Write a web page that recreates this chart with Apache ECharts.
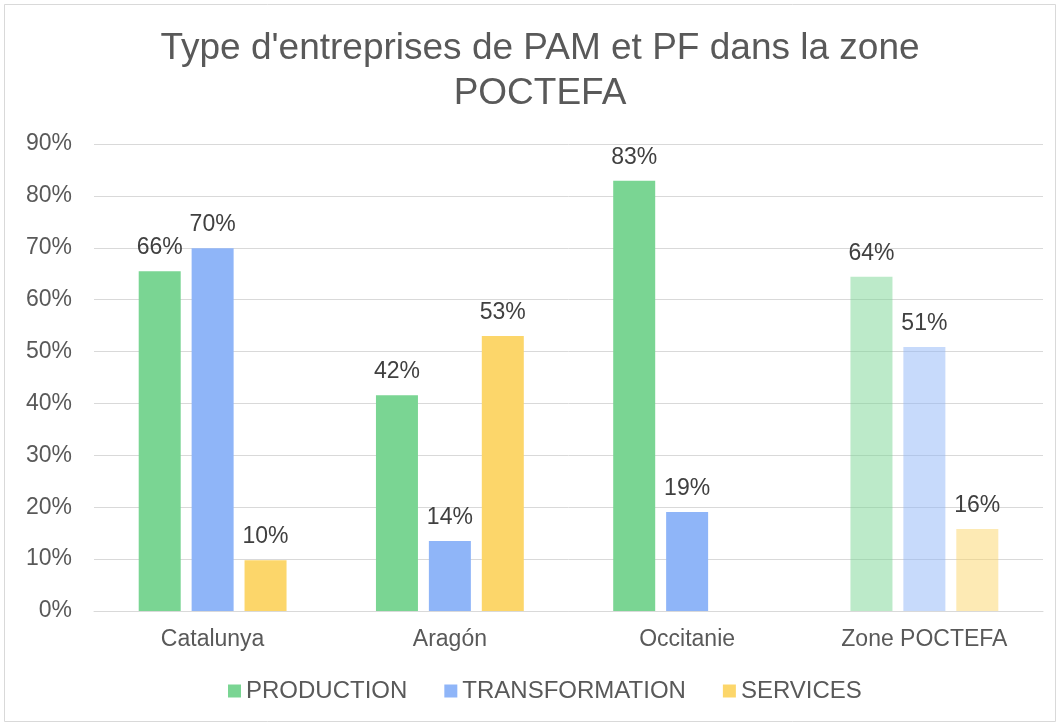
<!DOCTYPE html>
<html><head><meta charset="utf-8">
<script src="https://cdn.jsdelivr.net/npm/echarts@6/dist/echarts.min.js"></script>
<style>html,body{margin:0;padding:0;background:#fff}#c{width:1060px;height:725px}</style>
</head><body><div id="c"></div>
<script>
const titleText = "Type d'entreprises de PAM et PF dans la zone\nPOCTEFA";
const categories = ["Catalunya", "Aragón", "Occitanie", "Zone POCTEFA"];
const production = [65.5, 41.6, 82.9, 64.4];
const transformation = [69.9, 13.5, 19.1, 50.9];
const services = [9.8, 53.0, null, 15.8];
const seriesNames = ["PRODUCTION", "TRANSFORMATION", "SERVICES"];
const colors = ["#7AD593", "#8FB5F8", "#FCD66A"];
const fadedColors = ["rgba(122,213,147,0.5)", "rgba(143,181,248,0.5)", "rgba(252,214,106,0.5)"];
const yTicks = [0, 10, 20, 30, 40, 50, 60, 70, 80, 90];
const fadedCategory = "Zone POCTEFA";

const font = "'Liberation Sans', Arial, sans-serif";
function build(vals, k) {
  return vals.map((v, i) => {
    if (v === null) return '-';
    if (categories[i] === fadedCategory) return { value: v, itemStyle: { color: fadedColors[k] } };
    return v;
  });
}
const allSeries = [production, transformation, services].map((vals, k) => ({
  name: seriesNames[k],
  type: 'bar',
  data: build(vals, k),
  barWidth: 42,
  barGap: '26%',
  itemStyle: { color: colors[k] },
  label: {
    show: true, position: 'top', distance: 12,
    fontFamily: font, fontSize: 23, color: '#404040',
    formatter: p => Math.round(p.value) + '%'
  },
  emphasis: { disabled: true }
}));

const chart = echarts.init(document.getElementById('c'), null, { renderer: 'canvas' });
chart.setOption({
  animation: false,
  backgroundColor: '#fff',
  graphic: [{ type: 'rect', shape: { x: 4.5, y: 4.5, width: 1051, height: 717 }, style: { fill: 'none', stroke: '#d9d9d9', lineWidth: 1 }, z: -1 }],
  title: {
    text: titleText, left: 540, textAlign: 'center', top: 26, padding: 0,
    textStyle: { fontFamily: font, fontSize: 37, fontWeight: 'normal', color: '#595959', lineHeight: 45 }
  },
  legend: {
    top: 674, left: 223, itemWidth: 13, itemHeight: 13, itemGap: 37,
    icon: 'rect',
    textStyle: { fontFamily: font, fontSize: 24, color: '#595959', padding: [0, 0, 0, 0] },
    data: seriesNames
  },
  grid: { left: 94, right: 17, top: 144, bottom: 114, containLabel: false },
  xAxis: {
    type: 'category', data: categories,
    axisLine: { lineStyle: { color: '#d9d9d9', width: 1 } },
    axisTick: { show: false },
    axisLabel: { fontFamily: font, fontSize: 23, color: '#595959', margin: 17 }
  },
  yAxis: {
    type: 'value', min: yTicks[0], max: yTicks[yTicks.length - 1], interval: 10,
    axisLine: { show: false }, axisTick: { show: false },
    splitLine: { lineStyle: { color: '#d9d9d9', width: 1 } },
    axisLabel: { fontFamily: font, fontSize: 23, color: '#595959', margin: 22, formatter: v => v + '%' }
  },
  series: allSeries
});
</script></body></html>
